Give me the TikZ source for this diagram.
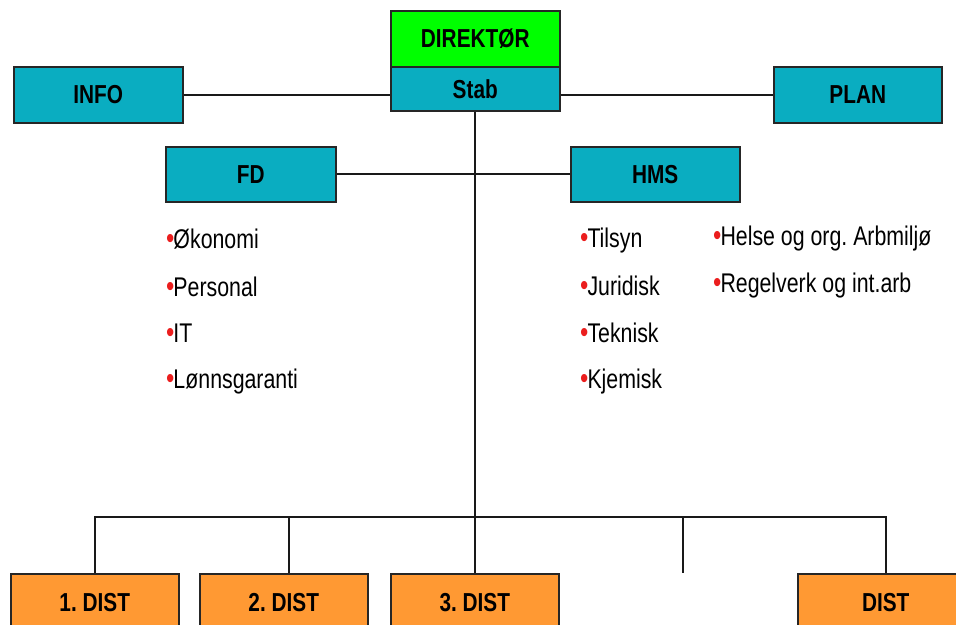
\documentclass[tikz,border=0pt]{standalone}
\usepackage{fontspec}
\setmainfont{Liberation Sans}[FakeStretch=0.79]
\newfontfamily\boxfont{Liberation Sans}[FakeStretch=0.8]
\begin{document}
\frenchspacing
\begin{tikzpicture}[x=1pt,y=-1pt,
  unit/.style={draw=black!85, line width=1.5pt, inner sep=0pt, anchor=north west,
    minimum height=56pt, font=\boxfont\bfseries\fontsize{26}{30}\selectfont, text=black},
  staff/.style={unit, fill=teal0},
  head/.style={unit, fill=lime0},
  district/.style={unit, fill=orange0, minimum width=168pt, minimum height=58pt},
  link/.style={draw=black!90, line width=1.6pt},
  item/.style={anchor=base west, inner sep=0pt, font=\fontsize{27}{32}\selectfont}]
\definecolor{teal0}{RGB}{10,173,193}
\definecolor{lime0}{RGB}{0,255,0}
\definecolor{orange0}{RGB}{255,153,51}
\definecolor{dot}{RGB}{235,30,30}
\newcommand{\dotitem}[1]{{\color{dot}\fontsize{30}{32}\selectfont\raisebox{0pt}{•}}\kern-1pt#1}

\useasboundingbox (0,0) rectangle (956,624);
\clip (0,0) rectangle (956,624);

% top of the chart
\node[head, minimum width=169pt] (dir) at (390,10) {DIREKTØR};
\node[staff, minimum width=169pt, minimum height=44pt] (stab) at (390,66) {Stab};
\node[staff, minimum width=169pt] (info) at (13,66) {INFO};
\node[staff, minimum width=168pt] (plan) at (773,66) {PLAN};

% departments
\node[staff, minimum width=170pt, minimum height=55pt] (fd) at (165,146) {FD};
\node[staff, minimum width=169pt, minimum height=55pt] (hms) at (570,146) {HMS};

% districts
\node[district] (d1) at (10,573) {1. DIST};
\node[district] (d2) at (199,573) {2. DIST};
\node[district] (d3) at (390,573) {3. DIST};
\node[district, minimum width=176pt] (d5) at (797,573) {DIST};

% tasks of each department
\node[item] (fd1) at (166,248) {\dotitem{Økonomi}};
\node[item] (fd2) at (166,296) {\dotitem{Personal}};
\node[item] (fd3) at (166,342) {\dotitem{IT}};
\node[item] (fd4) at (166,388) {\dotitem{Lønnsgaranti}};
\node[item] (hms1) at (580,247) {\dotitem{Tilsyn}};
\node[item] (hms2) at (580,295) {\dotitem{Juridisk}};
\node[item] (hms3) at (580,342) {\dotitem{Teknisk}};
\node[item] (hms4) at (580,388) {\dotitem{Kjemisk}};
\node[item] (hms5) at (713,245) {\dotitem{Helse og org. Arbmiljø}};
\node[item] (hms6) at (713,292) {\dotitem{Regelverk og int.arb}};

% connectors
\coordinate (bus) at (475,517);
\coordinate (bus2) at (289,517);
\coordinate (bus4) at (683,517);
\coordinate (open4) at (683,573);

\draw[link] (info.east) -- (info.east -| stab.west);
\draw[link] (stab.east |- info.east) -- (plan.west);
\draw[link] (fd.east) -- (hms.west);
\draw[link] (stab.south) -- (stab.south |- d3.north);
\draw[link] (d1.north) |- (bus) -| (d5.north);
\draw[link] (bus2) -- (bus2 |- d2.north);
\draw[link] (bus4) -- (open4);
\end{tikzpicture}
\end{document}
